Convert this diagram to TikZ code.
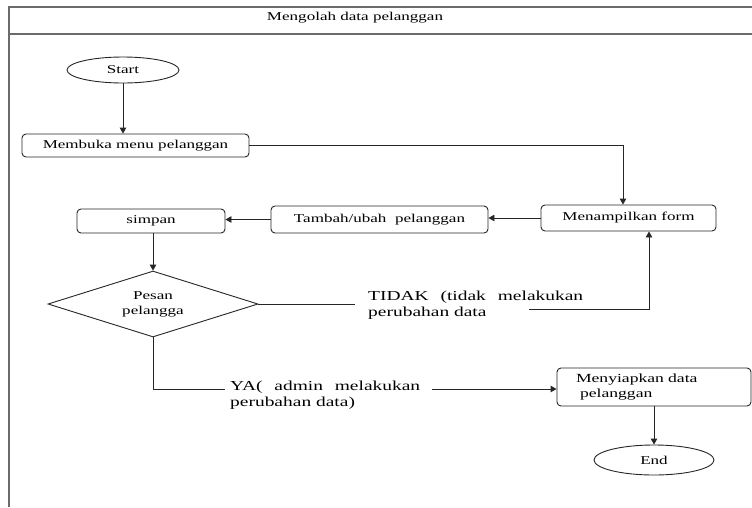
\documentclass[tikz,border=0pt]{standalone}
\usepackage{fontspec}
\setmainfont{Liberation Serif}[FakeStretch=1.42]
\usetikzlibrary{shapes.geometric,arrows.meta}
\begin{document}
\begin{tikzpicture}[x=1pt,y=-1pt,
  font=\fontsize{12}{15}\selectfont,
  frameline/.style={draw=black!58,line width=1.5pt},
  flow/.style={draw=black!85,line width=0.9pt},
  arr/.style={flow,-{Triangle[length=6pt,width=6.5pt]}},
  procbox/.style={draw=black!85,line width=0.9pt,rounded corners=4pt,inner sep=0pt},
  term/.style={ellipse,draw=black!85,line width=0.9pt,inner sep=0pt},
  decision/.style={diamond,draw=black!85,line width=0.9pt,inner sep=0pt,aspect=3.2,align=center},
  lbl/.style={anchor=west,inner sep=0pt,font=\fontsize{13.7}{16}\selectfont}
]
\useasboundingbox (0,0) rectangle (752,507);

% swimlane frame and header
\draw[frameline] (9,507) -- (9,7) -- (752,7);
\draw[frameline] (9,34) -- (752,34);
\node[inner sep=0pt] (title) at (355,18) {Mengolah data pelanggan};

% nodes
\node[term,minimum width=112pt,minimum height=26pt] (start) at (123,70) {Start};
\node[procbox,minimum width=227pt,minimum height=23pt] (memb) at (135.5,145.5) {Membuka menu pelanggan};
\node[procbox,minimum width=175pt,minimum height=26pt] (menam) at (628.5,218) {Menampilkan form};
\node[procbox,minimum width=217pt,minimum height=27pt] (tambah) at (379.5,219.5) {Tambah/ubah\ \ pelanggan};
\node[procbox,minimum width=148pt,minimum height=24pt] (simpan) at (151,221) {simpan};
\node[decision,minimum width=210pt,minimum height=66pt] (dia) at (153,304) {Pesan\\pelangga};
\node[procbox,minimum width=194pt,minimum height=38pt,text width=156pt,align=left,
      inner xsep=19pt,font=\fontsize{12.4}{15}\selectfont] (menyi) at (654,387)
      {Menyiapkan data\\\hspace*{4pt}pelanggan};
\node[term,minimum width=120pt,minimum height=30pt] (endn) at (654,460) {End};

% branch labels
\node[lbl] (tidak1) at (368,297) {\makebox[215pt][s]{TIDAK (tidak melakukan}};
\node[lbl] (tidak2) at (368,313) {perubahan data};
\node[lbl] (ya1) at (230,387) {\makebox[190pt][s]{YA( admin melakukan}};
\node[lbl] (ya2) at (230,403) {perubahan data)};

% free ends of the label-interrupted connectors
\coordinate (tEnd) at (355,304);
\coordinate (tStart) at (529,309);
\coordinate (yEnd) at (225,389);
\coordinate (yStart) at (432,389);

% connectors
\draw[arr] (start.south) -- (start.south |- memb.north);
\draw[arr] (memb.east) -| ([xshift=-5.5pt]menam.north);
\draw[arr] (menam.west) -- (menam.west -| tambah.east);
\draw[arr] (tambah.west) -- (tambah.west -| simpan.east);
\draw[arr] (dia.north |- simpan.south) -- (dia.north);
\draw[flow] (dia.east) -- (tEnd);
\draw[arr] (tStart) -| ([xshift=20.5pt]menam.south);
\draw[flow] (dia.south) |- (yEnd);
\draw[arr] (yStart) -- (yStart -| menyi.west);
\draw[arr] (menyi.south) -- (endn.north);
\end{tikzpicture}
\end{document}
